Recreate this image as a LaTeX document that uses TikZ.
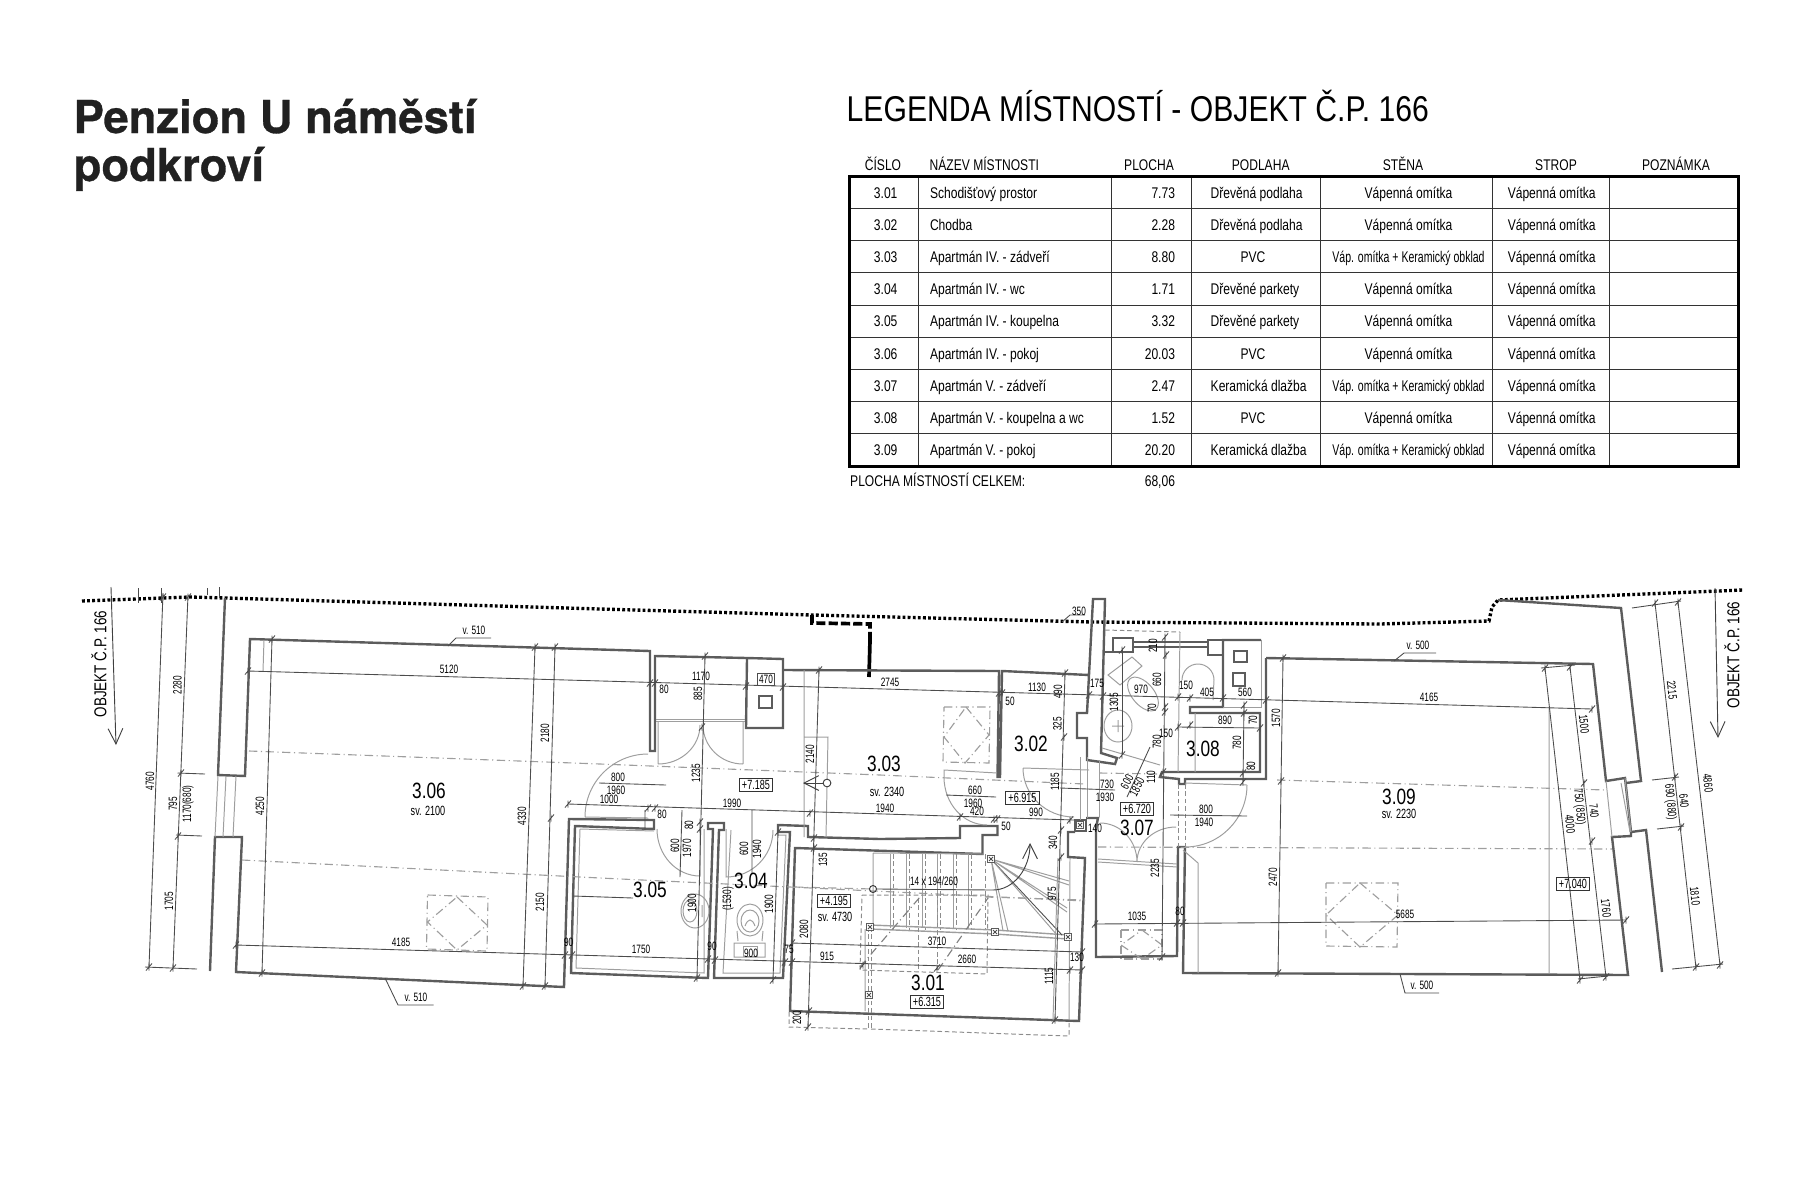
\documentclass[tikz,border=0pt]{standalone}
\usepackage{fontspec}
\usetikzlibrary{arrows.meta}
\setmainfont{Liberation Sans}
\newfontfamily\plandim[FakeStretch=0.68]{Liberation Sans}
\newfontfamily\plantext[FakeStretch=0.78]{Liberation Sans}
\newfontfamily\legendhead[FakeStretch=0.84]{Liberation Sans}
\newfontfamily\titlefont[BoldFeatures={FakeBold=0.7}]{TeX Gyre Heros}
\definecolor{wallgray}{gray}{0.36}
\definecolor{thingray}{gray}{0.62}
\definecolor{titleink}{gray}{0.13}
\tikzset{
  wall/.style={draw=wallgray,line width=0.68pt},
  thinline/.style={draw=thingray,line width=0.28pt},
  dimline/.style={draw=black!70,line width=0.25pt},
  breakline/.style={draw=thingray,line width=0.32pt,dash pattern=on 2.4pt off 1pt on 0.3pt off 1pt},
  hidden/.style={draw=black!45,line width=0.28pt,dash pattern=on 1.3pt off 0.8pt},
  party/.style={draw=black,line width=0.95pt,dash pattern=on 0.8pt off 0.65pt},
  planarrow/.style={draw=black!75,line width=0.26pt,-{Straight Barb[length=4.2pt,width=4.2pt]}},
  dimtext/.style={font=\plandim\fontsize{3.45}{4}\selectfont,inner sep=0pt},
  roomno/.style={font=\plantext\fontsize{6.3}{7}\selectfont,inner sep=0pt},
  clearh/.style={font=\plandim\fontsize{3.8}{4}\selectfont,inner sep=0pt},
  levelbox/.style={draw=black!80,line width=0.3pt,font=\plandim\fontsize{3.8}{4}\selectfont,minimum width=9.6pt,minimum height=3.5pt,inner sep=0.4pt},
  objtext/.style={font=\plantext\fontsize{4.9}{6}\selectfont,inner sep=0pt,rotate=90},
  tabhead/.style={font=\plantext\fontsize{4.4}{5}\selectfont,inner sep=0pt,anchor=base},
  tabcell/.style={font=\plantext\fontsize{4.4}{5}\selectfont,inner sep=0pt,anchor=base},
  tabgrid/.style={draw=black!80,line width=0.28pt},
  post/.style={draw=wallgray,line width=0.5pt,fill=white},
}
\newcommand{\dimticks}[1]{\foreach \p in {#1} {\draw[dimline] \p +(-3,3.5) -- +(3,-3.5) \p +(0,-3.5) -- +(0,3.5);}}
\newcommand{\stairpost}[1]{\draw[post] #1 +(-3.5,-3.5) rectangle +(3.5,3.5); \draw[dimline] #1 +(-2,-2) -- +(2,2) #1 +(-2,2) -- +(2,-2);}
\begin{document}
\begin{tikzpicture}[x=0.01cm,y=-0.01cm]
  \useasboundingbox (0,0) rectangle (1800,1200);
  %% Title
  \node[anchor=base west,inner sep=0pt,text=titleink,font=\titlefont\bfseries\fontsize{12.9}{15}\selectfont] (titlea) at (73,133) {Penzion U náměstí};
  \node[anchor=base west,inner sep=0pt,text=titleink,font=\titlefont\bfseries\fontsize{12.9}{15}\selectfont] (titleb) at (73,181) {podkroví};
  %% Legend
  \node[anchor=base west,inner sep=0pt,font=\legendhead\fontsize{10.2}{12}\selectfont] (legend) at (846,121.7) {LEGENDA MÍSTNOSTÍ - OBJEKT Č.P. 166};
  \foreach \t/\px [count=\i] in {ČÍSLO/883,PLOCHA/1149,PODLAHA/1260.7,STĚNA/1403,STROP/1556,POZNÁMKA/1676}
    \node[tabhead] (head\i) at (\px,170) {\t};
  \node[tabhead,anchor=base west] (headname) at (929,170) {NÁZEV MÍSTNOSTI};
  \foreach \ly in {208.6,240.7,272.8,305,337.1,369.3,401.4,433.6}
    \draw[tabgrid] (849.5,\ly) -- (1738,\ly);
  \foreach \lx in {918.7,1111,1191.7,1320,1492,1609}
    \draw[tabgrid] (\lx,176.5) -- (\lx,466);
  \draw[black,line width=0.85pt] (849.5,176.5) rectangle (1738,466);
  \foreach \num/\name/\area/\wallf [count=\i] in {
      3.01/Schodišťový prostor/7.73/Vápenná omítka,
      3.02/Chodba/2.28/Vápenná omítka,
      3.03/Apartmán IV. - zádveří/8.80/\plandim Váp. omítka + Keramický obklad,
      3.04/Apartmán IV. - wc/1.71/Vápenná omítka,
      3.05/Apartmán IV. - koupelna/3.32/Vápenná omítka,
      3.06/Apartmán IV. - pokoj/20.03/Vápenná omítka,
      3.07/Apartmán V. - zádveří/2.47/\plandim Váp. omítka + Keramický obklad,
      3.08/Apartmán V. - koupelna a wc/1.52/Vápenná omítka,
      3.09/Apartmán V. - pokoj/20.20/\plandim Váp. omítka + Keramický obklad}{
    \pgfmathsetmacro{\rowy}{198.3+(\i-1)*32.15}
    \node[tabcell] (num\i) at (885.7,\rowy) {\num};
    \node[tabcell,anchor=base west] (name\i) at (929.3,\rowy) {\name};
    \node[tabcell,anchor=base east] (area\i) at (1175.7,\rowy) {\area};
    \node[tabcell] (stena\i) at (1408.5,\rowy) {\wallf};
    \node[tabcell] (strop\i) at (1551.7,\rowy) {Vápenná omítka};
  }
  \foreach \t/\rowy [count=\i] in {Dřevěná podlaha/198.3,Dřevěná podlaha/230.4,Dřevěné parkety/294.8,Dřevěné parkety/326.9,Keramická dlažba/391.2,Keramická dlažba/455.5}
    \node[tabcell,anchor=base west] (floor\i) at (1210,\rowy) {\t};
  \foreach \rowy [count=\i] in {262.6,359.1,423.4}
    \node[tabcell] (pvc\i) at (1253,\rowy) {PVC};
  \node[tabcell,anchor=base west] (totalname) at (849.5,486.7) {PLOCHA MÍSTNOSTÍ CELKEM:};
  \node[tabcell,anchor=base east] (totalarea) at (1175.7,486.7) {68,06};
  %% Party line and thick stub
  \draw[party] (82,601) -- (190,597) -- (226,598) -- (600,609) -- (812,615) -- (1092,622) -- (1380,624) -- (1489,621) -- (1492,607) -- (1498,600) -- (1743,590);
  \draw[black,line width=1.05pt,dash pattern=on 2.6pt off 0.9pt] (812,615) -- (812,623) -- (870,624) -- (870,640);
  \draw[black,line width=1.05pt] (870,640) -- (869,677);
  %% Walls
  \draw[wall] (225,598) -- (218,775) -- (245,776) -- (250,639) -- (650,651) -- (650,751) -- (655,751) -- (655,656) -- (747,658) -- (783,659) -- (783,728) -- (746,728) -- (747,658);
  \draw[wall] (783,670) -- (999,671) -- (997.5,777) -- (1000,777) -- (1002,671) -- (1089,675) -- (1093,599) -- (1105,599) -- (1101,753) -- (1117,758) -- (1115,764) -- (1087,760) -- (1087,738) -- (1077,738) -- (1077,713) -- (1087,713) -- (1089,675);
  \draw[wall] (210,971) -- (215,837) -- (242,837) -- (236,972) -- (564,987) -- (569,819) -- (654,820) -- (654,829) -- (575,826) -- (571,973) -- (708,978) -- (713,829) -- (708,829) -- (708,823) -- (724,823) -- (724,830) -- (719,830) -- (714,978) -- (783,978) -- (790,832) -- (778,832) -- (778,825) -- (808,826) -- (808,837) -- (880,839) -- (960,838) -- (960,826) -- (997.5,826) -- (997.5,835) -- (982.5,835) -- (982.5,854) -- (795,848) -- (790,1011) -- (1079,1021) -- (1085,858) -- (1068,857) -- (1068,832) -- (1075,832);
  \draw[wall] (1075,820) rectangle (1086,831);
  \draw[wall] (1086,818) -- (1098,818) -- (1096,828) -- (1096,957) -- (1177,956) -- (1178,847) -- (1185,847) -- (1183,973) -- (1628,975) -- (1612,837) -- (1631,836) -- (1631,832) -- (1646,830) -- (1662,972);
  \draw[wall] (1266,658) -- (1593,664) -- (1606,781) -- (1625,778) -- (1631,832);
  \draw[wall] (1498,600) -- (1621,608) -- (1641,781) -- (1626,783);
  \draw[wall] (1266,658) -- (1266,779) -- (1185,779) -- (1185,784) -- (1179,784) -- (1179,779) -- (1160,777) -- (1162,772) -- (1260,772) -- (1260,713) -- (1190,713) -- (1190,707) -- (1223,707) -- (1223,640) -- (1261,640);
  \draw[wall] (1105,652) -- (1133,652) -- (1133,638) -- (1113,638) -- (1113,652);
  \draw[wall] (1208,640) rectangle (1223,655);
  \draw[wall,line width=0.5pt] (1133,642) -- (1208,642) (1133,647) -- (1208,647);
  \draw[wall] (1234,651) rectangle (1247,662) (1233,673) rectangle (1245,686) (759,696) rectangle (772,708);
  \draw[thinline] (1261,640) -- (1261,707) -- (1223,707);
  %% Thin construction lines
  \draw[thinline] (264,640) -- (263,671) (218,776) -- (215,837) (226,776) -- (223,837) (236,776) -- (233,837);
  \draw[thinline] (656,719) -- (745,719) (656,721) -- (745,721);
  \draw[thinline] (580,829) -- (576,968) -- (704,973) -- (704,829) (731,830) -- (723,973) -- (780,973) -- (786,835) -- (778,835);
  \draw[thinline] (580,829) -- (654,831);
  \draw[thinline] (804,670) -- (804,837) (804,737) -- (828,737) -- (826,837);
  \draw[thinline] (1099,760) -- (1099,817) (1080,757) -- (1080,820) (1087,757) -- (1087,818);
  \draw[thinline] (1102,748) -- (1160,765) (1195,713) -- (1195,772);
  \draw[thinline] (1180,632) -- (1178,772);
  \draw[hidden] (1105,630) -- (1180,632);
  \draw[hidden] (1178,784) -- (1178,847) (1185,784) -- (1185,847);
  \draw[thinline] (1549,707) -- (1549,973) (1183,850) -- (1198,863) -- (1198,973);
  \draw[thinline] (1098,862) -- (1177,867) (1098,859) -- (1177,864);
  \draw[thinline] (1606,781) -- (1612,837) (1625,778) -- (1631,832) (1621,783) -- (1630,832);
  %% Roof break lines
  \draw[breakline] (249,751) -- (600,764) -- (880,775) -- (1085,784);
  \draw[breakline] (242,860) -- (600,878) -- (1085,901);
  \draw[breakline] (1277,780) -- (1606,790);
  \draw[breakline] (1099,773) -- (1160,774);
  \draw[breakline] (1098,847) -- (1612,849);
  %% Roof windows
  \foreach \a/\b/\c/\d/\e/\f/\g/\h in {
      427.5/895/488/897/487/951/426.5/949,
      944/707/990/707/989/763/943/762,
      1326/883/1398/883/1397/947/1326/946,
      1121/930/1162/930/1162/959/1121/959}
    \draw[breakline] (\a,\b) -- (\c,\d) -- (\e,\f) -- (\g,\h) -- cycle;
  \foreach \a/\b/\c/\d/\e/\f/\g/\h in {
      457/897/487/925/457/950/427.5/922,
      966/707/989/735/965/763/944/737,
      1360/883/1398/915/1360/947/1326/915,
      1142/930/1162/945/1142/959/1121/945}
    \draw[breakline] (\a,\b) -- (\c,\d) -- (\e,\f) -- (\g,\h) -- cycle;
  %% Doors
  \draw[thinline] (585,817) arc[start angle=180,end angle=270,radius=63] (585,817) -- (648,818);
  \draw[thinline] (658,764) arc[start angle=90,end angle=0,x radius=42,y radius=39] (658,764) -- (658,722);
  \draw[thinline] (743,764) arc[start angle=90,end angle=180,x radius=40,y radius=39] (743,764) -- (743,722);
  \draw[thinline] (657,829) arc[start angle=180,end angle=90,x radius=43,y radius=47] -- (700,827);
  \draw[thinline] (773,830) arc[start angle=0,end angle=90,radius=47] -- (726,829);
  \draw[thinline] (944,777) arc[start angle=180,end angle=90,x radius=43,y radius=48] (944,777) -- (944,770) -- (997,773);
  \draw[thinline] (1023,768) arc[start angle=180,end angle=90,x radius=51,y radius=49] (1023,768) -- (1089,770);
  \draw[thinline] (1100,823) arc[start angle=270,end angle=360,x radius=37,y radius=39] (1176,827) arc[start angle=270,end angle=180,x radius=39,y radius=35];
  \draw[thinline] (1247,785) arc[start angle=0,end angle=90,radius=62] (1185,783) -- (1247,785);
  %% Sanitary
  \draw[thinline] (1108,675) -- (1132,657) -- (1142,666) -- (1120,685) -- cycle;
  \draw[thinline,rotate around={-50:(1143,694)}] (1143,694) ellipse (20 and 11);
  \draw[thinline] (1118,726) ellipse (14 and 16) (1118,720) -- (1118,732) (1112,726) -- (1124,726);
  \draw[thinline] (1182,680) arc[start angle=180,end angle=360,x radius=16,y radius=16] -- (1213,700);
  \draw[thinline] (695,911) ellipse (14 and 17) (690,911) ellipse (7 and 11) (702,905) -- (702,917);
  \draw[thinline] (750,920) ellipse (13 and 16) (750,921) ellipse (9 and 11);
  \draw[thinline] (745,926) .. controls (748,918) and (752,918) .. (755,926);
  \draw[thinline] (737,931) -- (738,941) (763,931) -- (762,941) (734,957) -- (734,943) -- (765,943) -- (765,957) -- cycle;
  \draw[thinline] (743,946) rectangle (757,956);
  %% Stairs
  \draw[thinline] (873,853) -- (873,927) (873,853) -- (983,854) (865,1011) -- (865,929);
  \foreach \tx in {890,906,922,937,953,968}
    \draw[thinline] (\tx,854) -- (\tx,928);
  \foreach \tx in {893,909,925,940,956,971,985}
    \draw[hidden] (\tx,854) -- (\tx,930);
  \draw[thingray,line width=0.4pt] (870,925) -- (995,930) -- (1068,935) (870,929) -- (995,934) -- (1068,939);
  \draw[hidden] (868,927) -- (868,1029) (871,927) -- (871,1029);
  \draw[thinline] (991,859) -- (1069,881) (991,859) -- (1069,885);
  \draw[thinline] (991,859) -- (1067,908) (991,859) -- (1067,912);
  \draw[dimline] (991,859) -- (1062,935);
  \draw[thinline] (991,859) -- (1057,935);
  \draw[thinline] (991,859) -- (1003,931) (991,859) -- (1008,931);
  \draw[thinline] (1058,858) -- (1053,1020) (1070,858) -- (1069,1020);
  \draw[hidden] (862,895) -- (988,895) -- (987,974) -- (860,970) -- cycle;
  \draw[hidden] (918,898) -- (918,970) (937,893) -- (937,970);
  \draw[breakline,draw=black!50] (860,967) -- (920,897) (938,970) -- (988,898);
  \draw[hidden] (789,1012) -- (789,1027) -- (868,1029) (871,1029) -- (1069,1036) -- (1069,1020);
  \draw[breakline] (795,887) -- (873,889);
  \draw[breakline] (985,897) -- (1085,900);
  \draw[dimline] (877,889) -- (993,890);
  \node[circle,draw=black!80,line width=0.26pt,inner sep=0pt,minimum size=2pt] (stairstart) at (873,889) {};
  \draw[planarrow] (993,890) arc[start angle=90,end angle=0,x radius=37,y radius=47];
  \node[circle,draw=black!80,line width=0.26pt,inner sep=0pt,minimum size=2.2pt,fill=white] (entry) at (827,783) {};
  \coordinate (entrytip) at (803,783);
  \draw[planarrow] (entry) -- (entrytip);
  \stairpost{(870,927)} \stairpost{(869,995)} \stairpost{(995,932)} \stairpost{(1068,937)} \stairpost{(991,859)} \stairpost{(1080,825)}
  %% Long dimension lines
  \draw[dimline] (248,671) -- (1592,709);
  \dimticks{(248,671),(650,683),(655,683),(746,686),(783,687),(999,693),(1002,693),(1089,695),(1103,696),(1178,697),(1190,698),(1223,698),(1266,700),(1592,709)}
  \draw[dimline] (236,945) -- (1082,970);
  \dimticks{(236,945),(565,955),(572,955),(708,959),(715,960),(785,962),(792,962),(863,965),(937,968),(1070,970),(1082,970)}
  \draw[dimline] (568,804) -- (1074,820);
  \dimticks{(568,804),(648,808),(655,808),(810,813),(960,817),(994,819),(997,819),(1070,820)}
  \draw[dimline] (1095,924) -- (1626,920);
  \dimticks{(1095,924),(1177,923),(1183,923),(1626,920)}
  \draw[dimline] (1178,727) -- (1260,728);
  \dimticks{(1178,727),(1190,725),(1260,728)}
  \draw[dimline] (792,943) -- (1082,952);
  \dimticks{(792,943),(1082,952)}
  %% Vertical dimension lines
  \draw[dimline] (163,593) -- (149,967);
  \draw[dimline] (188,595) -- (173,968);
  \dimticks{(163,597),(188,597),(181,773),(178,836),(149,967),(173,968)}
  \draw[dimline] (272,639) -- (262,973);
  \dimticks{(272,639),(262,973)}
  \draw[dimline] (535,647) -- (523,986);
  \draw[dimline] (555,647) -- (545,986);
  \dimticks{(535,647),(555,647),(551,818),(523,986),(545,986)}
  \draw[dimline] (705,656) -- (697,978);
  \dimticks{(705,656),(702,727),(700,822),(700,829),(697,978)}
  \draw[dimline] (778,832) -- (773,980);
  \dimticks{(778,832),(773,980)}
  \draw[dimline] (819,670) -- (808,1027);
  \dimticks{(819,670),(814,838),(814,848),(809,1011),(808,1027)}
  \draw[dimline] (1065,673) -- (1055,1020);
  \dimticks{(1065,673),(1064,737),(1061,830),(1061,857),(1055,1020)}
  \draw[dimline] (1165,637) -- (1162,957);
  \dimticks{(1165,637),(1166,655),(1165,707),(1165,712),(1163,772),(1162,957)}
  \draw[dimline] (1122,650) -- (1122,755);
  \dimticks{(1122,650),(1122,755)}
  \draw[dimline] (1244,705) -- (1243,782);
  \dimticks{(1244,705),(1244,713),(1243,773),(1243,782)}
  \draw[dimline] (1283,658) -- (1278,973);
  \dimticks{(1283,658),(1281,781),(1278,973)}
  \draw[dimline] (1545,668) -- (1580,980);
  \draw[dimline] (1570,667) -- (1606,977);
  \draw[dimline] (1541,668) -- (1575,665) (1578,979) -- (1608,976);
  \dimticks{(1545,668),(1570,667),(1584,783),(1592,841),(1580,980),(1606,977)}
  \draw[dimline] (1655,603) -- (1696,968);
  \draw[dimline] (1678,602) -- (1720,965);
  \dimticks{(1655,603),(1678,602),(1675,777),(1681,827),(1696,967),(1720,965)}
  %% Extension and leader lines
  \draw[dimline] (177.5,773) -- (205,774) (176,835) -- (202,836) (145,967) -- (197,969);
  \draw[dimline] (138,588) -- (138,603) (161,588) -- (161,603) (207,588) -- (207,595) (219,587) -- (219,598);
  \draw[dimline] (1632,608) -- (1681,601) (1652,780) -- (1679,777) (1657,829) -- (1684,826) (1672,969) -- (1723,964);
  \draw[dimline] (448,646) -- (456,638) -- (491,638);
  \draw[dimline] (385,978) -- (398,1005) -- (433.6,1005);
  \draw[dimline] (1394,661) -- (1404,653) -- (1436,653);
  \draw[dimline] (1400,974) -- (1405,993) -- (1439,993);
  \draw[dimline] (1062,622) -- (1070,615) -- (1085,615);
  \draw[dimline] (1150,747) -- (1127,797);
  \draw[dimline] (1170,815) -- (1247,816) (599,783) -- (666,785) (946,795) -- (996,797) (1060,788) -- (1115,790);
  \draw[dimline] (682,810) -- (680,877) (752,810) -- (752,873) (573,896) -- (633,898) (645,810) -- (645,830);
  \coordinate (objlefta) at (111,587);
  \coordinate (objleftb) at (116,745);
  \coordinate (objrighta) at (1715,588);
  \coordinate (objrightb) at (1718,738);
  \draw[planarrow,-{Straight Barb[length=4.4pt,width=4.2pt]}] (objlefta) -- (objleftb);
  \draw[planarrow,-{Straight Barb[length=4.4pt,width=4.2pt]}] (objrighta) -- (objrightb);
  %% Room labels
  \foreach \t/\px/\py [count=\i] in {3.01/928/983,3.02/1031/744,3.03/884/764,3.04/751/881,3.05/650/890,3.06/429/791,3.07/1137/828,3.08/1203/749,3.09/1399/797}
    \node[roomno] (room\i) at (\px,\py) {\t};
  \foreach \t/\px/\py [count=\i] in {sv. 2100/428/811,sv. 2340/887/792,sv. 4730/835/917,sv. 2230/1399/814}
    \node[clearh] (clear\i) at (\px,\py) {\t};
  \foreach \t/\px/\py [count=\i] in {+7.185/756/785,+6.915/1022.5/798,+6.720/1137/809,+4.195/834/901,+6.315/927/1002,+7.040/1573/884}
    \node[levelbox] (level\i) at (\px,\py) {\t};
  \node[objtext] (objleft) at (99,664) {OBJEKT Č.P. 166};
  \node[objtext] (objright) at (1732,655) {OBJEKT Č.P. 166};
  %% Dimension labels
  \foreach \t/\px/\py [count=\i] in {v. 510/474/630,5120/449/669,4185/401/942,90/568.6/942,v. 510/416/997,
      1170/701/676,80/664/689,800/618/777,1960/616/790,1000/609/799,1990/732/803,80/662/814,
      1750/641/949,90/712/946,75/789/949,900/751/953,915/827/956,3710/937/941,2660/967/959,130/1077/957,
      2745/890/682,660/975/790,1960/973/803,420/977/811,1940/885/808,50/1010/701,1130/1037/687,990/1036/812,50/1006/826,
      175/1097/683,730/1107/784,1930/1105/797,350/1079/611,140/1095/828,970/1141/689,150/1186/685,405/1207/692,560/1245/692,
      890/1225/720,150/1166/733,800/1206/809,1940/1204/822,1035/1137/916,80/1180/911,v. 500/1418/645,4165/1429/697,5685/1405/914,v. 500/1422/985}
    \node[dimtext] (dimh\i) at (\px,\py) {\t};
  \node[dimtext] (stairnote) at (934,881) {14 x 194/260};
  \node[dimtext,draw=black!70,line width=0.2pt,inner sep=0.5pt] (flue) at (766,679) {470};
  \foreach \t/\px/\py [count=\i] in {2280/177.5/685,4760/150/781,795/173/804,1170(680)/188/804,1705/169/901,4250/260/806,2180/545/733,4330/522/816,2150/540/902,
      885/698/694,2140/810/754,1235/696/773,80/689/825,600/675/846,1970/687/848,600/744/849,1940/757/849,1900/692/903,(1530)/728/899,1900/769/904,2080/804/929,
      135/823/860,340/1053/843,975/1052/894,1115/1049/976,200/797/1018,490/1058/692,325/1057.5/724,1185/1055/782,
      210/1153/646,660/1157/680,1305/1114/702,70/1152/708,70/1253/720,780/1157/742,780/1237/743,80/1251/766,110/1151/777,1570/1276/718,2235/1155/868,2470/1273/877}
    \node[dimtext,rotate=90] (dimv\i) at (\px,\py) {\t};
  \foreach \t/\px/\py [count=\i] in {1500/1584/724,750 (850)/1579/807,4000/1570/824,740/1594/811,1760/1606/908,2215/1672/690,4860/1708/783,640/1684/801,690 (880)/1670/802,1810/1695/896}
    \node[dimtext,rotate=-84] (dimr\i) at (\px,\py) {\t};
  \node[dimtext,rotate=62] (dimsa) at (1127,782) {600};
  \node[dimtext,rotate=62] (dimsb) at (1137,787) {1850};
\end{tikzpicture}
\end{document}
